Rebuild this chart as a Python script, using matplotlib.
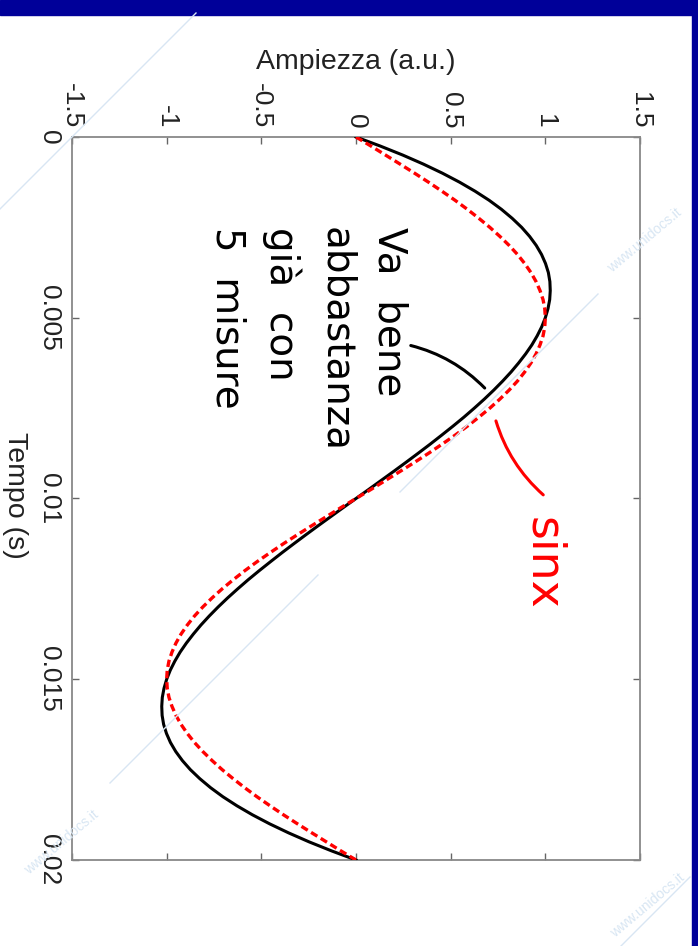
import matplotlib
matplotlib.use('Agg')
import matplotlib.pyplot as plt
from matplotlib.patches import Rectangle
from matplotlib.lines import Line2D

plt.rcParams['font.family'] = ['Liberation Sans', 'DejaVu Sans']

# time samples (s), every 0.25 ms
tempo = [i * 0.00025 for i in range(81)]

# reference sine (red dashed)
seno = [0.0, 0.079, 0.156, 0.233, 0.309, 0.383, 0.454, 0.523, 0.588, 0.649,
        0.707, 0.760, 0.809, 0.853, 0.891, 0.924, 0.951, 0.972, 0.988, 0.997,
        1.0, 0.997, 0.988, 0.972, 0.951, 0.924, 0.891, 0.853, 0.809, 0.760,
        0.707, 0.649, 0.588, 0.523, 0.454, 0.383, 0.309, 0.233, 0.156, 0.079,
        0.0, -0.079, -0.156, -0.233, -0.309, -0.383, -0.454, -0.523, -0.588, -0.649,
        -0.707, -0.760, -0.809, -0.853, -0.891, -0.924, -0.951, -0.972, -0.988, -0.997,
        -1.0, -0.997, -0.988, -0.972, -0.951, -0.924, -0.891, -0.853, -0.809, -0.760,
        -0.707, -0.649, -0.588, -0.523, -0.454, -0.383, -0.309, -0.233, -0.156, -0.079, 0.0]

# reconstruction from 5 measurements (black solid)
ricostruito = [0.0, 0.128, 0.247, 0.356, 0.456, 0.547, 0.629, 0.703, 0.768, 0.825,
               0.875, 0.917, 0.952, 0.980, 1.001, 1.016, 1.024, 1.026, 1.023, 1.014,
               1.0, 0.981, 0.957, 0.929, 0.896, 0.859, 0.819, 0.775, 0.728, 0.678,
               0.625, 0.570, 0.512, 0.452, 0.391, 0.328, 0.264, 0.199, 0.133, 0.067,
               0.0, -0.067, -0.133, -0.199, -0.264, -0.328, -0.391, -0.452, -0.512, -0.570,
               -0.625, -0.678, -0.728, -0.775, -0.819, -0.859, -0.896, -0.929, -0.957, -0.981,
               -1.0, -1.014, -1.023, -1.026, -1.024, -1.016, -1.001, -0.980, -0.952, -0.917,
               -0.875, -0.825, -0.768, -0.703, -0.629, -0.547, -0.456, -0.356, -0.247, -0.128, 0.0]

amp_ticks = [-1.5, -1, -0.5, 0, 0.5, 1, 1.5]
amp_labels = ['-1.5', '-1', '-0.5', '0', '0.5', '1', '1.5']
t_ticks = [0, 0.005, 0.01, 0.015, 0.02]
t_labels = ['0', '0.005', '0.01', '0.015', '0.02']

W, H = 698, 946
fig = plt.figure(figsize=(W / 100, H / 100), dpi=100)
fig.patch.set_facecolor('white')

# slide border
fig.patches.append(Rectangle((0, 1 - 15 / H), 1, 15 / H, transform=fig.transFigure,
                             color='#000099', zorder=0))
fig.patches.append(Rectangle((692 / W, 0), 6 / W, 1, transform=fig.transFigure,
                             color='#000099', zorder=0))

# faint watermark
wm = '#d8e6f3'
for (x0, y0, x1, y1) in [(196, 13, 0, 209), (598, 294, 400, 492), (318, 575, 110, 783),
                         (690, 877, 621, 946)]:
    fig.add_artist(Line2D([x0 / W, x1 / W], [1 - y0 / H, 1 - y1 / H], color=wm, lw=1,
                          transform=fig.transFigure, zorder=0.5))
for (x, y) in [(645, 240), (62, 842), (648, 905)]:
    fig.text(x / W, 1 - y / H, 'www.unidocs.it', color=wm, fontsize=10, rotation=40,
             ha='center', va='center', zorder=0.5)

ax = fig.add_axes([72 / W, 86 / H, 568 / W, 723 / H])
ax.set_facecolor('none')
ax.plot(ricostruito, tempo, color='black', lw=2.2, zorder=3)
ax.plot(seno, tempo, color='#ff0000', lw=2.4, linestyle=(0, (2.2, 1.2)), zorder=4)

ax.set_xlim(-1.5, 1.5)
ax.set_ylim(0.02, 0)
ax.set_xticks(amp_ticks)
ax.set_xticklabels(amp_labels)
ax.set_yticks(t_ticks)
ax.set_yticklabels(t_labels)
ax.xaxis.tick_top()
ax.tick_params(axis='both', direction='in', top=True, bottom=True, left=True, right=True,
               length=5, width=1, color='#666666', labelsize=19, labelcolor='#222222')
ax.tick_params(axis='x', labeltop=True, labelbottom=False, labelrotation=-90, pad=6)
ax.tick_params(axis='y', labelrotation=-90, pad=8)
for lbl in ax.get_yticklabels():
    lbl.set_va('center')
for s in ax.spines.values():
    s.set_color('#888888')
    s.set_linewidth(1.3)

ax.set_xlabel('Ampiezza (a.u.)', fontsize=20.5, color='#222222')
ax.xaxis.set_label_position('top')
ax.xaxis.set_label_coords(0.5, (860 - 62) / 723)
ax.xaxis.label.set_va('center')
ax.set_ylabel('Tempo (s)', fontsize=20.5, color='#222222', rotation=-90)
ax.yaxis.set_label_coords((15 - 72) / 568, (860 - 495) / 723)
ax.yaxis.label.set_va('center')
ax.yaxis.label.set_ha('center')

# handwritten notes
ax.text(0.275, 0.0025, 'Va  bene\nabbastanza\ngià  con\n5  misure', rotation=-90,
        ha='right', va='top', fontsize=28, family='DejaVu Sans', color='black',
        linespacing=1.5, multialignment='left', zorder=5)
ax.annotate('', xy=(0.69, 0.0070), xytext=(0.275, 0.00575),
            arrowprops=dict(arrowstyle='-', color='black', lw=2.2,
                            connectionstyle='arc3,rad=-0.15'), zorder=5)
ax.text(0.987, 0.0105, 'sinx', rotation=-90, ha='center', va='top', fontsize=33,
        family='DejaVu Sans', color='#ff0000', zorder=5)
ax.annotate('', xy=(1.0, 0.00995), xytext=(0.735, 0.00778),
            arrowprops=dict(arrowstyle='-', color='#ff0000', lw=2.2,
                            connectionstyle='arc3,rad=0.15'), zorder=5)

fig.savefig('out.png', dpi=100, facecolor='white')
